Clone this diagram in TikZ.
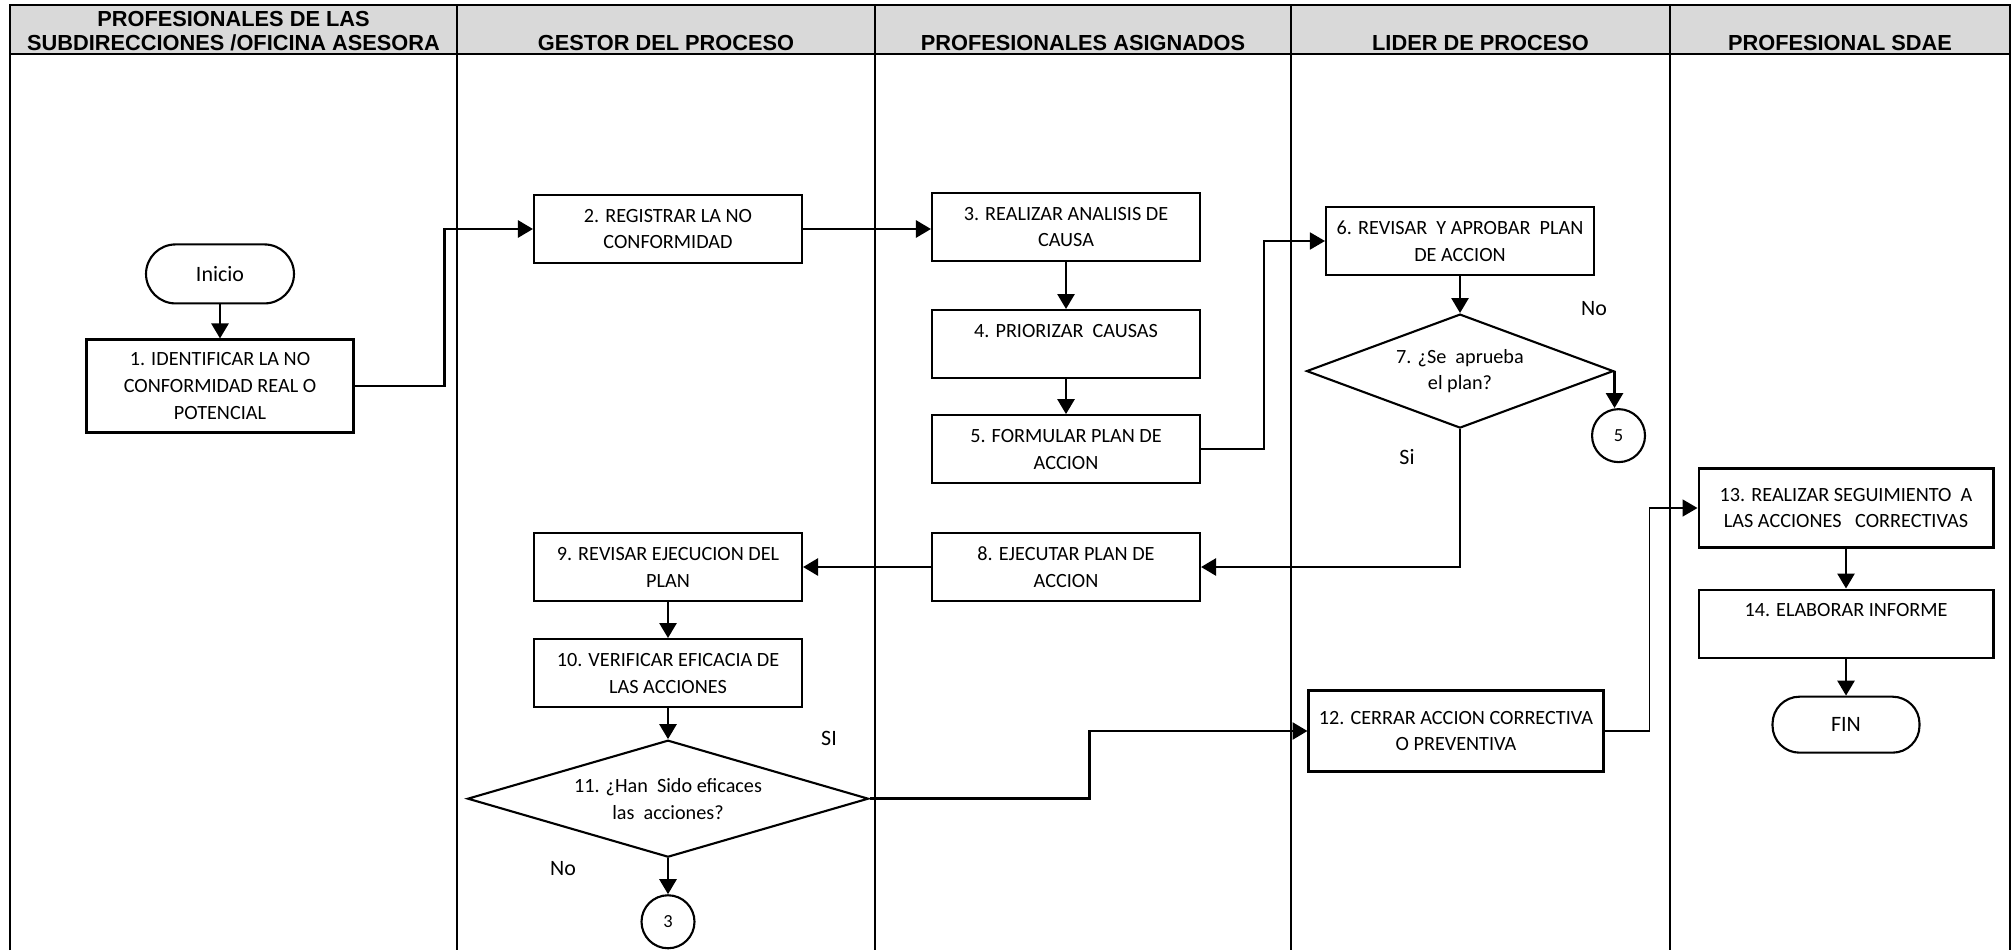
\documentclass[tikz,border=0pt]{standalone}
\usepackage{fontspec}
\setmainfont{Carlito}
\newfontfamily\lanefont{Liberation Sans}
\usetikzlibrary{arrows.meta, positioning, shapes.geometric, calc}
\definecolor{headgray}{RGB}{217,217,217}

\begin{document}
\begin{tikzpicture}[x=0.02cm, y=-0.02cm,
		paso/.style={draw, line width=1.2pt, minimum width=5.36cm, minimum height=1.36cm, align=center, inner sep=2pt, font=\fontsize{11.5}{15.3}\selectfont},
		terminal/.style={draw, line width=1.2pt, rounded corners=0.54cm, minimum width=2.94cm, minimum height=1.12cm, font=\fontsize{12.5}{15}\selectfont},
		decision/.style={draw, line width=1.2pt, diamond, aspect=2.7, inner sep=0pt, align=center, font=\fontsize{11.5}{15.3}\selectfont},
		conector/.style={draw, line width=1.2pt, circle, minimum size=1.06cm, inner sep=0pt, font=\fontsize{10.5}{12}\selectfont},
		carril/.style={anchor=base, align=center, font=\lanefont\bfseries\fontsize{12.4}{14}\selectfont},
		etiqueta/.style={font=\fontsize{12.5}{15}\selectfont},
		flecha/.style={-{Triangle[length=0.3cm, width=0.34cm]}, line width=1.5pt},
		flechafina/.style={-{Triangle[length=0.3cm, width=0.34cm]}, line width=1pt}
	]
	\useasboundingbox (0,0) rectangle (2013,950);
	% carriles
	\fill[headgray] (10,5) rectangle (2010,54);
	\foreach \x in {457,875,1291,1670}
		\draw[line width=1pt] (\x,5) -- (\x,950);
	\draw[line width=1.6pt] (10,950) -- (10,5) -- (2010,5) -- (2010,950);
	\draw[line width=1.6pt] (10,54) -- (2010,54);
	\node[carril] (h1) at (233.5,51) {PROFESIONALES DE LAS\\SUBDIRECCIONES /OFICINA ASESORA};
	\node[carril] (h2) at (666,51) {GESTOR DEL PROCESO};
	\node[carril] (h3) at (1083,51) {PROFESIONALES ASIGNADOS};
	\node[carril] (h4) at (1480.5,51) {LIDER DE PROCESO};
	\node[carril] (h5) at (1840,51) {PROFESIONAL SDAE};

	% pasos
	\node[paso, minimum width=5.34cm, minimum height=1.86cm] (b1) at (220,386) {1. IDENTIFICAR LA NO\\CONFORMIDAD REAL O\\POTENCIAL};
	\node[terminal, minimum width=2.96cm, minimum height=1.18cm, rounded corners=0.59cm, above=0.68cm of b1] (ini) {Inicio};
	\node[paso] (b2) at (668,229) {2. REGISTRAR LA NO\\CONFORMIDAD};
	\node[paso] (b3) at (1066,227) {3. REALIZAR ANALISIS DE\\CAUSA};
	\node[paso, below=0.94cm of b3] (b4) {4. PRIORIZAR~ CAUSAS\\~};
	\node[paso, below=0.7cm of b4] (b5) {5. FORMULAR PLAN DE\\ACCION};
	\node[paso] (b6) at (1460,241) {6. REVISAR~ Y APROBAR~ PLAN\\DE ACCION};
	\node[decision, minimum width=6.14cm, minimum height=2.28cm, below=0.74cm of b6] (d7) {7. ¿Se~ aprueba\\el plan?};
	\node[conector, xshift=0.08cm, below=0.74cm of d7.east] (c5) {5};
	\node[paso] (b8) at (1066,567) {8. EJECUTAR PLAN DE\\ACCION};
	\node[paso] (b9) at (668,567) {9. REVISAR EJECUCION DEL\\PLAN};
	\node[paso, below=0.72cm of b9] (b10) {10. VERIFICAR EFICACIA DE\\LAS ACCIONES};
	\node[decision, aspect=3.4, minimum width=8.02cm, minimum height=2.34cm, below=0.62cm of b10] (d11) {11. ¿Han~ Sido eficaces\\las~ acciones?};
	\node[conector, below=0.72cm of d11] (c3) {3};
	\node[paso, minimum width=5.9cm, minimum height=1.62cm] (b12) at (1456,731) {12. CERRAR ACCION CORRECTIVA\\O PREVENTIVA};
	\node[paso, minimum width=5.9cm, minimum height=1.58cm] (b13) at (1846,508) {13. REALIZAR SEGUIMIENTO~ A\\LAS ACCIONES~~ CORRECTIVAS};
	\node[paso, minimum width=5.9cm, below=0.8cm of b13] (b14) {14. ELABORAR INFORME\\~};
	\node[terminal, below=0.74cm of b14] (fin) {FIN};

	% etiquetas
	\node[etiqueta] (no7) at (1594,309) {No};
	\node[etiqueta] (si7) at (1407,457) {Si};
	\node[etiqueta] (si11) at (829,738) {SI};
	\node[etiqueta] (no11) at (563,869) {No};

	% flechas
	\draw[flecha] (ini) -- (b1);
	\draw[flecha] (b1.east) -- ++(90,0) |- (b2.west);
	\draw[flecha] (b2.east) -- (b2.east -| b3.west);
	\draw[flecha] (b3) -- (b4);
	\draw[flecha] (b4) -- (b5);
	\draw[flechafina] (b5.east) -- ++(63,0) |- (b6.west);
	\draw[flecha] (b6) -- (d7);
	\draw[flecha] (d7.east) -- (d7.east |- c5.north);
	\draw[flecha] (d7.south) |- (b8.east);
	\draw[flecha] (b8) -- (b9);
	\draw[flecha] (b9) -- (b10);
	\draw[flecha] (b10) -- (d11);
	\draw[flecha] (d11) -- (c3);
	\draw[flecha] (d11.east) -- ++(220,0) |- (b12.west);
	\draw[flechafina] (b12.east) -- ++(45,0) |- (b13.west);
	\draw[flecha] (b13) -- (b14);
	\draw[flecha] (b14) -- (fin);
\end{tikzpicture}
\end{document}
